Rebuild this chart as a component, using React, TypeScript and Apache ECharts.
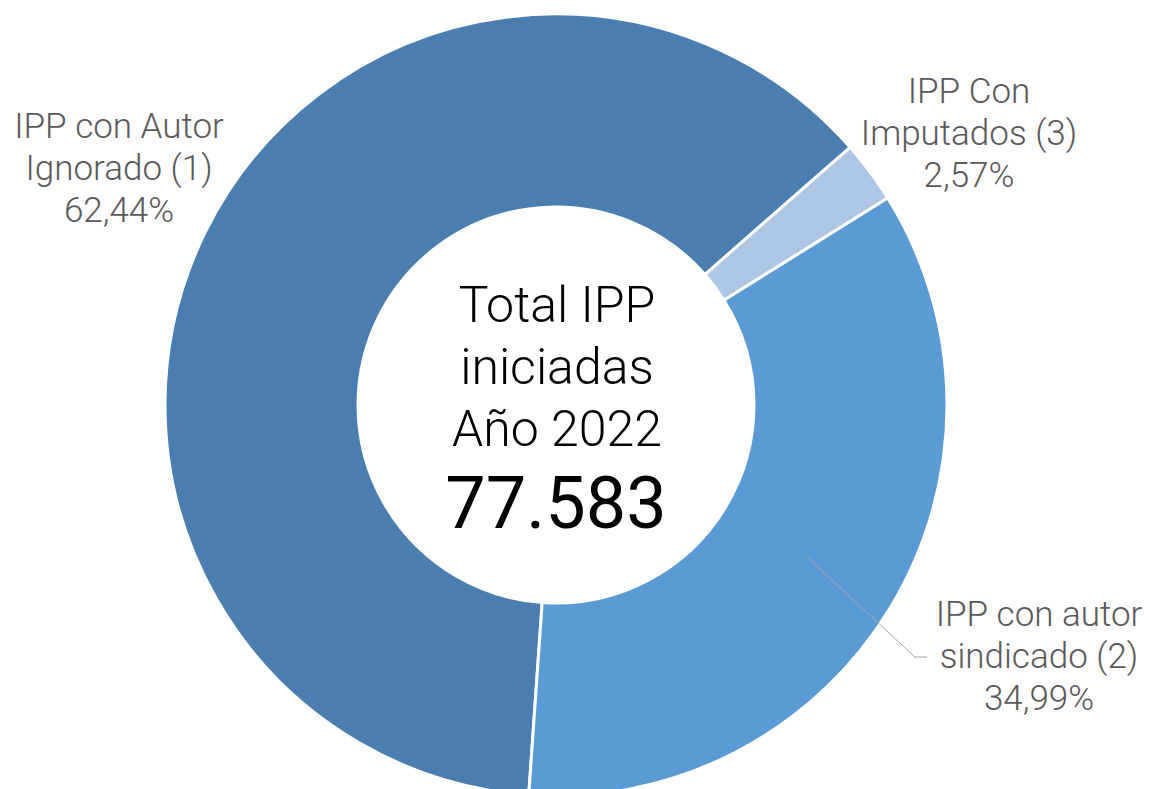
import React, { useEffect, useRef } from "react";
import * as echarts from "echarts";

const categories = ["IPP con Autor\nIgnorado (1)", "IPP Con\nImputados (3)", "IPP con autor\nsindicado (2)"];
const shares = [62.44, 2.57, 34.99];
const sliceColors = ["#4a7eb0", "#adc6e6", "#5b9bd5"];
const centerLines = ["Total IPP", "iniciadas", "Año 2022"];
const totalLabel = "77.583";

const fmtPct = (v: number) => v.toFixed(2).replace(".", ",") + "%";

export default function App() {
  const ref = useRef<HTMLDivElement>(null);
  useEffect(() => {
    document.body.style.margin = "0";
    const chart = echarts.init(ref.current!, null, { renderer: "svg" });
    const labelPos = [
      { x: 119, y: 168 },
      { x: 969, y: 133 },
      { x: 1039, y: 656 },
    ];
    const labelFont = "300 35px Roboto";
    chart.setOption({
      animation: false,
      backgroundColor: "#ffffff",
      series: [
        {
          type: "pie",
          center: [556, 405],
          radius: [198, 391],
          startAngle: 266,
          clockwise: true,
          silent: true,
          z: 2,
          label: { show: false },
          labelLine: { show: false },
          itemStyle: { borderColor: "#ffffff", borderWidth: 3 },
          data: categories.map((c, i) => ({
            name: c,
            value: shares[i],
            itemStyle: { color: sliceColors[i] },
          })),
        },
      ],
      graphic: [
        ...categories.map((c, i) => ({
          type: "text",
          x: labelPos[i].x,
          y: labelPos[i].y,
          z: 20,
          style: {
            text: c + "\n" + fmtPct(shares[i]),
            font: labelFont,
            lineHeight: 42,
            fill: "#595959",
            align: "center",
            verticalAlign: "middle",
          },
        })),
        {
          type: "polyline",
          z: 20,
          shape: { points: [[808, 558], [915, 657], [927, 657]] },
          style: { stroke: "#a6a6a6", lineWidth: 1, fill: null },
        },
        {
          type: "text",
          x: 557,
          y: 367,
          z: 20,
          style: {
            text: centerLines.join("\n"),
            font: "300 50px Roboto",
            lineHeight: 62,
            fill: "#000000",
            align: "center",
            verticalAlign: "middle",
          },
        },
        {
          type: "text",
          x: 556,
          y: 503,
          z: 20,
          style: {
            text: totalLabel,
            font: "400 72px Roboto",
            fill: "#000000",
            align: "center",
            verticalAlign: "middle",
          },
        },
      ],
    });
    return () => chart.dispose();
  }, []);
  return <div ref={ref} style={{ width: 1149, height: 789 }} />;
}
